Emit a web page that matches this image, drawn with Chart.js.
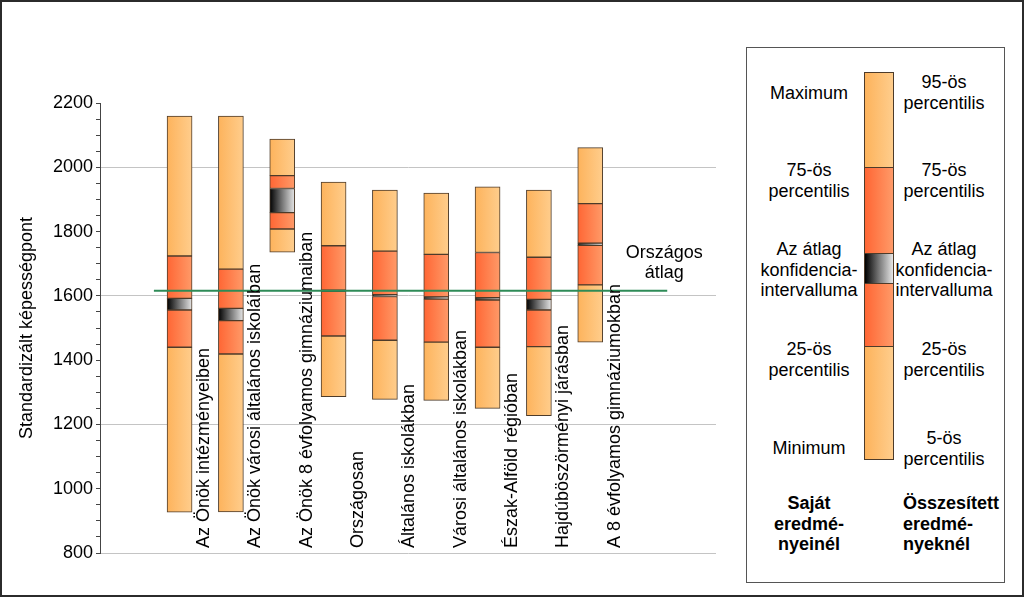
<!DOCTYPE html>
<html>
<head>
<meta charset="utf-8">
<script src="https://cdn.jsdelivr.net/npm/chart.js@4.4.1/dist/chart.umd.min.js"></script>
<style>
  html, body { margin: 0; padding: 0; background: #fff; }
  #wrap { position: relative; width: 1024px; height: 597px; overflow: hidden; font-family: "Liberation Sans", Arial, sans-serif; }
  #c { position: absolute; left: 0; top: 0; }
  #frame { position: absolute; left: 0; top: 0; width: 1024px; height: 597px; box-sizing: border-box; border: 2px solid #2b2b2b; pointer-events: none; }
  #legend { position: absolute; left: 746px; top: 47px; width: 259px; height: 536px; box-sizing: border-box; border: 1px solid #555; background: #fff; }
  .lt { position: absolute; font-size: 18px; line-height: 20.5px; color: #000; text-align: center; white-space: nowrap; }
  .lb { font-weight: bold; }
  #lbar { position: absolute; left: 117px; top: 24px; width: 30px; height: 388px; box-sizing: border-box; }
  .seg { position: absolute; left: 0; width: 30px; box-sizing: border-box; border: 1px solid #4d3b2a; }
</style>
</head>
<body>
<div id="wrap">
  <canvas id="c" width="1024" height="597"></canvas>
  <div id="legend">
    <div id="lbar">
      <div class="seg" style="top:0;height:96px;background:linear-gradient(to right,#fdb35c,#ffcd8c);"></div>
      <div class="seg" style="top:95px;height:87px;background:linear-gradient(to right,#ff6634,#ff9a68);"></div>
      <div class="seg" style="top:181px;height:31px;background:linear-gradient(to right,#000,#777 50%,#e6e6e6);"></div>
      <div class="seg" style="top:211px;height:64px;background:linear-gradient(to right,#ff6634,#ff9a68);"></div>
      <div class="seg" style="top:274px;height:114px;background:linear-gradient(to right,#fdb35c,#ffcd8c);"></div>
    </div>
    <div class="lt" style="left:12px;width:100px;top:35px;">Maximum</div>
    <div class="lt" style="left:147px;width:100px;top:24px;">95-ös<br>percentilis</div>
    <div class="lt" style="left:12px;width:100px;top:112px;">75-ös<br>percentilis</div>
    <div class="lt" style="left:147px;width:100px;top:112px;">75-ös<br>percentilis</div>
    <div class="lt" style="left:12px;width:100px;top:191px;">Az átlag<br>konfidencia-<br>intervalluma</div>
    <div class="lt" style="left:147px;width:100px;top:191px;">Az átlag<br>konfidencia-<br>intervalluma</div>
    <div class="lt" style="left:12px;width:100px;top:291px;">25-ös<br>percentilis</div>
    <div class="lt" style="left:147px;width:100px;top:291px;">25-ös<br>percentilis</div>
    <div class="lt" style="left:12px;width:100px;top:390px;">Minimum</div>
    <div class="lt" style="left:147px;width:100px;top:380px;">5-ös<br>percentilis</div>
    <div class="lt lb" style="left:12px;width:100px;top:445px;">Saját<br>eredmé-<br>nyeinél</div>
    <div class="lt lb" style="left:156px;top:445px;text-align:left;">Összesített<br>eredmé-<br>nyeknél</div>
  </div>
  <div id="frame"></div>
</div>
<script>
// ---- data ----
const categories = [
  "Az Önök intézményeiben",
  "Az Önök városi általános iskoláiban",
  "Az Önök 8 évfolyamos gimnáziumaiban",
  "Országosan",
  "Általános iskolákban",
  "Városi általános iskolákban",
  "Észak-Alföld régióban",
  "Hajdúböszörményi járásban",
  "A 8 évfolyamos gimnáziumokban"
];
const minValues  = [927, 928, 1736, 1286, 1278, 1275, 1250, 1227, 1456];
const p25Values  = [1440, 1419, 1808, 1475, 1462, 1456, 1440, 1442, 1634];
const ciLow      = [1556, 1523, 1859, 1614, 1598, 1590, 1587, 1556, 1757];
const ciHigh     = [1592, 1561, 1934, 1618, 1604, 1597, 1594, 1589, 1764];
const p75Values  = [1724, 1683, 1974, 1756, 1739, 1729, 1735, 1720, 1887];
const maxValues  = [2159, 2159, 2088, 1954, 1929, 1920, 1939, 1929, 2061];
const nationalAverage = 1616;
const nationalLabel = ["Országos", "átlag"];
const yTitle = "Standardizált képességpont";
const yMin = 800, yMax = 2200;

// ---- helpers ----
const FONT = '"Liberation Sans", Arial, sans-serif';
const FS = 18;
const BAR_W = 25;
const LIGHT = ['#fdb35c', '#ffcd8c'];
const RED = ['#ff6634', '#ff9a68'];
const CI = ['#000000', '#777777', '#e6e6e6'];

function gradFill(stops) {
  return function (ctx) {
    const chart = ctx.chart;
    if (!chart.chartArea || ctx.type !== 'data') return stops[0];
    const cx = chart.scales.x.getPixelForValue(ctx.raw.x);
    const g = chart.ctx.createLinearGradient(cx - BAR_W / 2, 0, cx + BAR_W / 2, 0);
    stops.forEach((c, i) => g.addColorStop(i / (stops.length - 1), c));
    return g;
  };
}
function seg(lo, hi) { return categories.map((_, i) => ({ x: i, y: [lo[i], hi[i]] })); }

const barCommon = {
  type: 'bar', grouped: false, barThickness: BAR_W, borderWidth: 1,
  borderColor: '#4d3b2a', borderSkipped: false, order: 2
};

const labelPlugin = {
  id: 'labels',
  afterDatasetsDraw(chart) {
    const { ctx, scales: { x, y } } = chart;
    ctx.save();
    ctx.fillStyle = '#000';
    ctx.font = FS + 'px ' + FONT;
    categories.forEach((t, i) => {
      const px = x.getPixelForValue(i) + 24.5;
      const py = y.bottom - 5;
      ctx.save();
      ctx.translate(px, py);
      ctx.rotate(-Math.PI / 2);
      ctx.textAlign = 'left';
      ctx.textBaseline = 'middle';
      ctx.fillText(t, 0, 0);
      ctx.restore();
    });
    const ly = y.getPixelForValue(nationalAverage);
    const lx = x.getPixelForValue(9.44);
    ctx.textAlign = 'center';
    ctx.textBaseline = 'middle';
    ctx.fillText(nationalLabel[0], lx, ly - 38);
    ctx.fillText(nationalLabel[1], lx, ly - 17.5);
    ctx.restore();
  }
};

new Chart(document.getElementById('c'), {
  data: {
    datasets: [
      { ...barCommon, data: seg(minValues, p25Values), backgroundColor: gradFill(LIGHT) },
      { ...barCommon, data: seg(p25Values, ciLow), backgroundColor: gradFill(RED) },
      { ...barCommon, data: seg(ciLow, ciHigh), backgroundColor: gradFill(CI) },
      { ...barCommon, data: seg(ciHigh, p75Values), backgroundColor: gradFill(RED) },
      { ...barCommon, data: seg(p75Values, maxValues), backgroundColor: gradFill(LIGHT) },
      {
        type: 'line', order: 0,
        data: [{ x: -0.5, y: nationalAverage }, { x: 9.5, y: nationalAverage }],
        borderColor: '#2e8b57', borderWidth: 2, pointRadius: 0, fill: false
      }
    ]
  },
  options: {
    responsive: false, animation: false,
    layout: { padding: { left: 12, right: 308, top: 103, bottom: 44 } },
    plugins: { legend: { display: false }, tooltip: { enabled: false } },
    scales: {
      x: { type: 'linear', min: -1.55, max: 10.45, offset: false, display: false },
      y: {
        min: yMin, max: yMax,
        afterFit(s) { s.width = 88; },
        ticks: {
          stepSize: 50, autoSkip: false, padding: 3, color: '#000',
          font: { family: FONT, size: FS },
          callback: v => (v % 200 === 0 ? String(v) : '')
        },
        grid: {
          tickLength: 4,
          color: c => (c.tick && c.tick.value % 400 === 0 ? '#c4c4c4' : 'rgba(0,0,0,0)'),
          tickColor: '#444'
        },
        border: { color: '#444', width: 1 },
        title: { display: true, text: yTitle, color: '#000', font: { family: FONT, size: FS }, padding: { top: 4, bottom: 4 } }
      }
    }
  },
  plugins: [labelPlugin]
});
</script>
</body>
</html>
